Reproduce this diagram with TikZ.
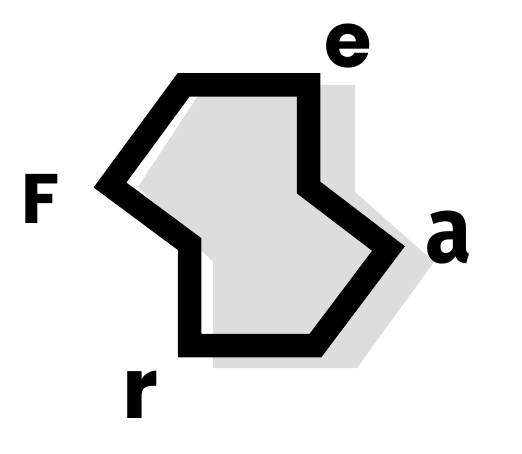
\documentclass[tikz,border=0pt]{standalone}
\usepackage{fontspec}
\newfontfamily\labelfont{Poppins}[BoldFont={* Bold}]
\newfontfamily\afont{Fira Sans}[BoldFont={* Bold}]
\definecolor{shadowgray}{RGB}{221,221,221}
\begin{document}
\begin{tikzpicture}[x=1pt,y=-1pt,
  outline/.style={draw=black,line width=23.5pt,line join=miter,miter limit=10},
  shadow/.style={fill=shadowgray,draw=none},
  lbl/.style={inner sep=0pt,font=\labelfont\bfseries}]
\useasboundingbox (0,0) rectangle (522,454);
% shadow polygon
\fill[shadow] (355,85) -- (355,192) -- (434,262) -- (357,368) -- (213,368) -- (213,262) -- (138,187) -- (205,85) -- cycle;
% outline polygon
\coordinate (A) at (183.5,85);
\coordinate (B) at (308.5,85);
\coordinate (C) at (308.5,187.5);
\coordinate (D) at (388.5,248.5);
\coordinate (E) at (315.5,345.5);
\coordinate (F) at (189.5,345.5);
\coordinate (G) at (189.5,244);
\coordinate (H) at (110,185);
\draw[outline] (A) -- (B) -- (C) -- (D) -- (E) -- (F) -- (G) -- (H) -- cycle;
% labels
\node[lbl,font=\labelfont\bfseries\fontsize{77}{77}\selectfont] (le) at (348.5,46) {e};
\node[lbl,font=\afont\bfseries\fontsize{94}{94}\selectfont,xscale=0.9] (la) at (449,238) {a};
\node[lbl,font=\labelfont\bfseries\fontsize{84}{84}\selectfont] (lr) at (140.5,395) {r};
\node[lbl,font=\labelfont\bfseries\fontsize{70}{70}\selectfont] (lf) at (40.5,198.5) {F};
\end{tikzpicture}
\end{document}
